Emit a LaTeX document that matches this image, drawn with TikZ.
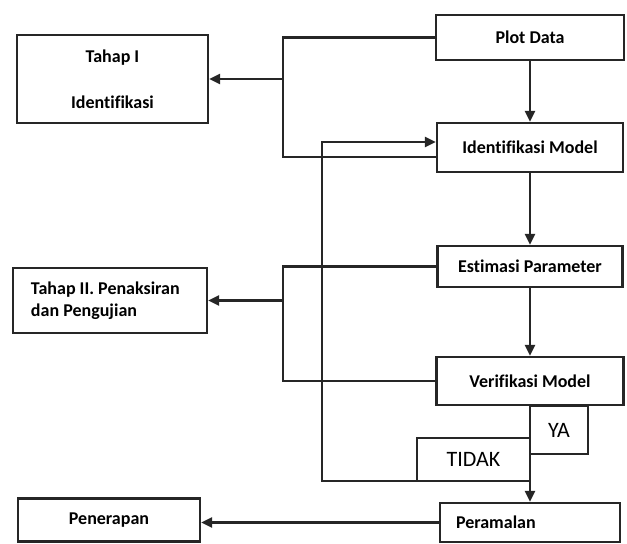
\documentclass[tikz,border=0pt]{standalone}
\usepackage{fontspec}
\setmainfont{Carlito}[Ligatures=NoCommon]
\usetikzlibrary{arrows.meta,positioning}
\tikzset{
  blk/.style={
    draw=black!85, line width=1.1pt, inner sep=2pt, align=center,
    font=\bfseries\fontsize{9}{11}\selectfont\frenchspacing
  },
  tag/.style={draw=black!85, line width=1.1pt, inner sep=0pt, outer sep=0pt,
    font=\fontsize{11}{13}\selectfont},
  flow/.style={draw=black!85, line width=1.1pt},
  arw/.style={flow, -{Triangle[length=5.5pt,width=5pt]}}
}

\begin{document}
\begin{tikzpicture}[x=0.5pt,y=-0.5pt]
    \useasboundingbox (0,0) rectangle (627,544);

    % Main steps, top to bottom.
    \node[blk, minimum width=94pt, minimum height=22.5pt] (plot) at (530,37.5) {Plot Data};
    \node[blk, minimum width=93pt, minimum height=24.5pt] (idm) at (530,147.5)
      {Identifikasi Model};
    \node[blk, minimum width=92.5pt, minimum height=20.5pt] (est) at (530,266.5)
      {Estimasi Parameter};
    \node[blk, minimum width=93.5pt, minimum height=24pt] (ver) at (530,381)
      {Verifikasi Model};
    \node[blk, align=flush left, text width=74pt, inner xsep=8pt, minimum height=19.5pt]
      (per) at (530,522.5) {Peramalan};

    % Decision tags under the check.
    \node[tag, minimum width=29pt, minimum height=24pt, anchor=north west] (ya)
      at (ver.south) {YA};
    \node[tag, minimum width=56.5pt, minimum height=21.5pt, anchor=north east] (tidak)
      at ([yshift=-16pt]ya.north west) {TIDAK};

    % Stages on the left.
    \node[blk, minimum width=95.5pt, minimum height=44pt] (tahapI) at (112.5,79)
      {Tahap I\\[12pt]Identifikasi};
    \node[blk, align=flush left, text width=79pt, inner xsep=9pt, minimum height=32.5pt]
      (tahapII) at (110,300.5) {Tahap II. Penaksiran\\dan Pengujian};
    \node[blk, minimum width=91pt, minimum height=21.5pt] (pen) at (109,520) {Penerapan};

    \draw[arw] (plot) -- (idm);
    \draw[arw] (idm) -- (est);
    \draw[arw] (est) -- (ver);
    \draw[arw] (ver) -- (per);

    % Bracket for stage I.
    \coordinate (br1) at (283,79);
    \draw[flow] (plot.west) -| (br1) |- ([yshift=-4.75pt]idm.west);
    \draw[arw] (br1) -- (tahapI.east);

    % Bracket for stage II.
    \coordinate (br2) at (283,300.5);
    \draw[flow] (est.west) -| (br2) |- (ver.west);
    \draw[arw] (br2) -- (tahapII.east);

    % Back to identification when the check fails.
    \coordinate (back) at ([yshift=2.75pt]idm.west);
    \coordinate (loopc) at (322,142);
    \draw[arw] (tidak.south west) -| (loopc) -- (back);

    \draw[arw] (per.west) -- (per.west -| pen.east);
  \end{tikzpicture}
\end{document}
